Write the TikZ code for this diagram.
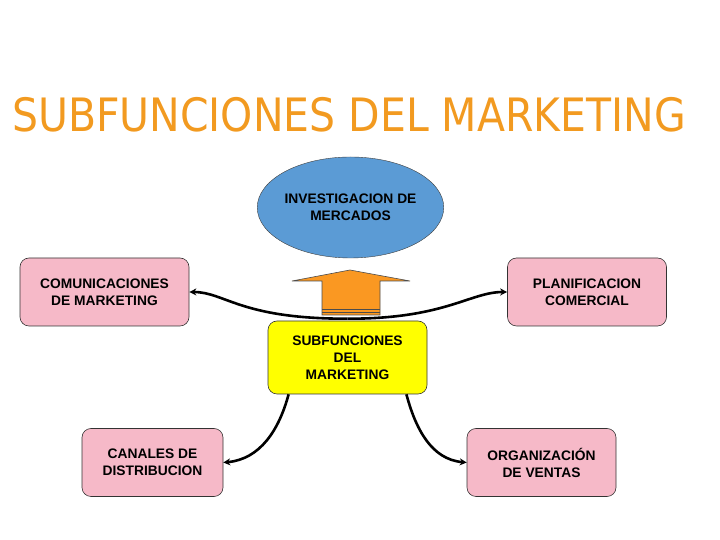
\documentclass[tikz,border=0pt]{standalone}
\usepackage{fontspec}
\usepackage{graphicx}
\usepackage{xcolor}
\usepackage{tikz}
\usetikzlibrary{shapes.geometric,arrows.meta,positioning}
\setmainfont{Liberation Sans}
\newfontfamily\titlefont{DejaVu Sans}
\definecolor{titleorange}{RGB}{242,154,32}
\definecolor{arroworange}{RGB}{250,152,34}
\definecolor{boxpink}{RGB}{246,185,200}
\definecolor{ellblue}{RGB}{91,155,213}
\definecolor{subyellow}{RGB}{255,255,0}
\tikzset{
  txt/.style={font=\fontsize{13.8}{17}\selectfont\bfseries, align=center},
  pinkbox/.style={txt, draw=black!80, fill=boxpink, rounded corners=9pt, line width=0.6pt},
  conn/.style={line width=2.6pt, -{Stealth[length=7pt,width=7pt]}}
}

\begin{document}
\begin{tikzpicture}[x=1pt,y=1pt]
    \useasboundingbox (0,0) rectangle (720,540);
    \node (title) at (349,425) {\scalebox{0.89}[1]{\titlefont\fontsize{46}{50}\selectfont\color{titleorange}SUBFUNCIONES DEL MARKETING}};
    \node[ellipse, txt, draw=black!75, fill=ellblue, minimum width=185pt, minimum height=101pt, inner sep=0pt] (inv) at (350.5,332.5) {INVESTIGACION DE\\MERCADOS};
    \node[pinkbox, minimum width=169pt, minimum height=68pt] (com) at (104.5,248) {COMUNICACIONES\\DE MARKETING};
    \node[pinkbox, minimum width=159pt, minimum height=68pt] (pla) at (587,248) {PLANIFICACION\\COMERCIAL};
    \node[pinkbox, minimum width=141pt, minimum height=68pt] (can) at (152.5,77.5) {CANALES DE\\DISTRIBUCION};
    \node[pinkbox, minimum width=149pt, minimum height=68pt] (org) at (541.5,77.5) {ORGANIZACIÓN\\DE VENTAS};
    \node[txt, draw=black!80, fill=subyellow, rounded corners=9pt, line width=0.6pt, minimum width=159pt, minimum height=73pt] (sub) at (347.5,182.5) {SUBFUNCIONES\\DEL\\MARKETING};
    \draw[conn] ([yshift=2pt]sub.north) .. controls (240,221) and (225,248) .. (com.east);
    \draw[conn] ([yshift=2pt]sub.north) .. controls (445,221) and (470,248) .. (pla.west);
    \draw[conn] (sub.212) to[out=-105,in=5] (can.east);
    \draw[conn] (sub.-32) to[out=-75,in=175] (org.west);
    \draw[draw=black!70, fill=arroworange, line width=0.6pt] (322,225) -- (322,259) -- (292,259) -- (350,270) -- (410,259) -- (380,259) -- (380,225) -- cycle;
    \draw[black!70, line width=0.8pt] (322,231) -- (380,231) (322,228) -- (380,228);
\end{tikzpicture}
\end{document}
